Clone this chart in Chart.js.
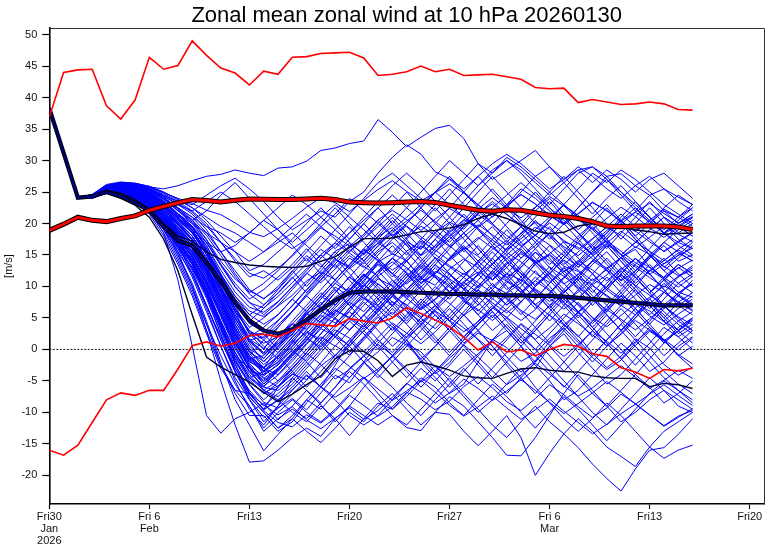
<!DOCTYPE html>
<html><head><meta charset="utf-8">
<script src="https://cdn.jsdelivr.net/npm/chart.js@4.4.1/dist/chart.umd.min.js"></script>
<style>html,body{margin:0;padding:0;background:#fff}canvas{display:block}</style>
</head><body>
<canvas id="c" width="770" height="548"></canvas>
<script>
const titleText = 'Zonal mean zonal wind at 10 hPa 20260130';
const yAxisTitle = '[m/s]';
const days = [0,1,2,3,4,5,6,7,8,9,10,11,12,13,14,15,16,17,18,19,20,21,22,23,24,25,26,27,28,29,30,31,32,33,34,35,36,37,38,39,40,41,42,43,44,45];
const tickDays = [0,7,14,21,28,35,42,49];
const tickLabels = [['Fri30','Jan','2026'],['Fri 6','Feb'],'Fri13','Fri20','Fri27',['Fri 6','Mar'],'Fri13','Fri20'];
const yTicks = [-20,-15,-10,-5,0,5,10,15,20,25,30,35,40,45,50];
const zeroX = [0,50];
const zeroY = [0,0];

const climMax = [36.9,44.0,44.4,44.5,38.7,36.6,39.6,46.4,44.5,45.1,49.0,46.7,44.7,43.9,42.0,44.2,43.7,46.4,46.5,47.0,47.1,47.2,46.3,43.5,43.7,44.1,45.0,44.1,44.5,43.5,43.6,43.7,43.3,42.9,41.6,41.4,41.5,39.2,39.7,39.3,38.9,39.0,39.3,39.0,38.1,38.0];
const climMin = [-16.0,-16.8,-15.2,-11.6,-8.0,-6.9,-7.3,-6.5,-6.5,-3.1,0.6,1.2,0.5,1.0,2.2,2.4,2.0,3.0,4.1,3.9,3.7,4.9,4.5,4.2,5.0,6.6,5.7,4.65,3.6,1.9,-0.1,1.2,-0.4,-0.1,-1.0,0.0,0.8,0.5,-0.7,-1.1,-2.9,-3.6,-4.6,-3.2,-3.4,-3.0];
const climMean = [18.9,19.9,21.0,20.5,20.3,20.8,21.2,22.1,22.7,23.3,23.8,23.65,23.4,23.7,23.9,23.85,23.8,23.8,23.9,24.0,23.8,23.4,23.3,23.25,23.3,23.4,23.5,23.35,22.9,22.5,22.1,21.95,22.2,22.1,21.7,21.3,21.1,20.8,20.3,19.6,19.5,19.6,19.6,19.6,19.45,19.05];
const ensMean = [38.3,31.2,24.1,24.3,25.0,24.3,23.3,22.0,19.5,17.3,16.5,13.8,10.8,7.5,4.6,3.0,2.5,3.2,4.7,6.3,7.8,9.0,9.2,9.2,9.2,9.1,9.0,8.9,8.8,8.8,8.7,8.7,8.6,8.6,8.5,8.5,8.4,8.2,8.0,7.8,7.6,7.4,7.2,7.0,7.0,7.0];
const ensUpper = [38.3,31.2,24.1,24.4,25.3,24.8,23.8,22.3,20.0,18.0,17.2,15.5,14.3,13.8,13.4,13.2,13.1,13.0,13.2,14.0,14.7,16.2,17.6,17.6,17.7,18.2,18.7,18.9,19.3,19.8,20.8,21.5,20.8,19.8,18.8,18.4,18.6,19.6,20.0,19.6,19.3,19.0,18.7,18.3,18.4,18.5];
const ensLower = [38.3,31.2,24.1,24.2,24.8,24.0,22.9,21.0,17.5,12.5,5.5,-1.2,-2.8,-4.0,-5.2,-6.8,-8.3,-7.1,-5.6,-4.2,-1.5,-0.2,-0.3,-1.8,-4.3,-2.5,-2.0,-2.6,-3.3,-4.2,-4.5,-4.6,-3.8,-3.1,-2.9,-3.3,-3.5,-3.6,-4.2,-4.5,-4.6,-4.6,-5.9,-5.4,-5.6,-6.2];

// ensemble members: common first three days, then days 3..45
const ensStart = [38.3,31.2,24.1];
const a01 = [24.2,25.4,25.0,24.0,22.0,18.5,11.0, 0.5,-10.5,-13.3,-11.0,-10.0,-8.5,-11.2, -9.0,-6.5,-8.8,-11.5,-9.0,-6.0,-3.5, -1.0,1.5,-2.0,-4.5,-7.0,-5.5,-2.0, 1.5,3.0,0.5,-2.5,-5.0,-8.0,-6.5, -4.0,-1.5,1.0,-1.0,-3.5,-2.0,0.5,2.0];
const a02 = [24.3,25.6,25.5,24.6,22.8,20.0,15.5, 10.0,3.0,-5.0,-12.0,-17.9,-17.7,-16.0, -14.0,-12.5,-13.8,-11.0,-9.0,-10.5,-12.0, -10.5,-12.4,-12.9,-10.0,-7.5,-9.0,-11.5, -14.0,-16.8,-16.9,-14.0,-10.5,-7.0,-4.0, -6.5,-9.0,-11.5,-10.0,-8.0,-6.5,-8.0,-9.5];
const a03 = [24.1,25.2,25.2,24.3,22.5,19.5,15.0, 10.5,4.5,-2.0,-8.0,-12.0,-16.1,-13.5, -11.0,-8.0,-5.5,-3.0,-4.5,-2.0,1.0, 3.5,1.0,-1.5,0.5,3.0,5.5,3.0, 0.5,-2.5,-5.0,-3.0,0.5,2.5,-0.5, -3.0,-5.5,-4.0,-1.5,1.0,3.5,2.0,0.0];
const a04 = [24.4,25.8,25.7,25.0,23.5,21.0,17.5, 13.5,8.5,2.5,-3.5,-7.5,-10.0,-12.5, -11.0,-13.0,-14.8,-12.5,-10.0,-11.5,-9.0, -7.0,-9.5,-12.0,-10.0,-10.3,-13.0,-15.3, -13.0,-10.5,-14.0,-20.0,-16.5,-13.4,-11.0, -13.0,-15.5,-17.0,-18.6,-15.5,-13.0,-11.5,-10.0];
const a05 = [24.0,25.0,24.8,23.5,21.5,18.0,13.5, 8.5,2.5,-3.0,-6.5,-7.0,-9.5,-8.0, -10.0,-11.5,-9.0,-11.0,-13.7,-11.0,-8.5, -9.5,-7.0,-4.5,-6.0,-8.5,-10.5,-8.0, -5.5,-7.5,-10.0,-12.5,-10.0,-7.5,-9.5, -12.0,-14.5,-12.0,-9.5,-7.0,-5.0,-6.5,-8.5];
const a06 = [24.2,25.3,25.3,24.3,22.5,19.5,15.0, 10.0,4.0,-2.5,-7.0,-10.5,-10.5,-13.0, -11.5,-8.5,-6.0,-2.5,1.0,4.0,6.5, 9.0,11.5,13.5,12.0,14.5,16.5,14.0, 12.0,9.5,11.0,13.5,15.0,12.5,10.0, 8.0,10.5,13.0,11.5,9.0,11.0,13.5,12.0];
const a07 = [24.3,25.5,25.5,24.8,23.2,20.5,16.5, 12.0,6.5,0.5,-5.0,-9.5,-12.0,-9.0, -4.5,-6.5,-8.5,-6.0,-3.5,-5.5,-8.0, -10.5,-12.0,-9.5,-7.0,-4.5,-7.0,-9.5, -12.0,-14.0,-11.5,-9.0,-11.5,-13.4,-15.6, -18.2,-20.5,-22.5,-19.0,-16.0,-15.6,-13.5,-11.0];
const a08 = [24.1,25.1,24.9,23.9,21.8,18.5,14.0, 9.0,3.0,-2.5,-6.5,-9.0,-12.5,-10.0, -8.0,-10.0,-11.5,-9.5,-7.0,-4.5,-7.0, -9.5,-7.5,-5.0,-2.5,-5.0,-7.5,-10.0, -8.0,-5.5,-3.0,-6.0,-8.5,-11.0,-13.0, -11.0,-8.5,-10.5,-13.0,-15.5,-17.3,-16.0,-15.2];
const a09 = [24.4,25.7,25.6,25.0,23.4,20.8,17.0, 12.5,7.0,1.5,-3.5,-7.0,-9.5,-6.0, -3.0,-0.5,2.0,0.5,3.0,5.5,3.0, 0.5,2.5,5.0,7.0,4.5,2.0,4.0, 6.5,8.5,6.0,3.5,1.0,3.5,6.0, 8.0,5.5,3.0,5.0,7.5,5.0,2.5,4.0];
const a10 = [24.2,25.4,25.3,24.5,22.8,20.0,16.0, 11.5,6.0,0.5,-4.5,-8.0,-11.5,-9.0, -6.5,-4.0,-6.0,-8.0,-10.5,-12.0,-10.5, -8.0,-5.5,-3.0,-5.0,-2.5,0.0,-2.5, -5.0,-7.0,-4.5,-2.0,0.5,-2.0,-4.5, -7.0,-9.0,-6.5,-4.0,-6.0,-8.5,-7.0,-5.0];
const a11 = [24.3,25.6,25.4,24.4,22.4,19.0,14.5, 9.5,4.0,-1.0,-5.5,-9.0,-13.0,-11.0, -9.5,-11.0,-8.5,-6.0,-3.0,-1.0,1.5, -1.0,-3.5,-6.0,-3.5,-1.0,1.5,4.0, 6.0,3.5,1.0,3.0,5.5,8.0,6.0, 3.5,1.0,-1.5,1.0,3.5,1.5,-1.0,0.5];
const a12 = [24.1,25.2,25.1,24.3,22.6,20.0,16.5, 12.0,7.0,1.5,-3.5,-7.5,-10.0,-12.5, -10.5,-8.0,-9.5,-7.0,-4.5,-2.0,-4.0, -6.0,-8.5,-10.5,-8.0,-5.5,-3.0,-5.5, -3.0,-0.5,2.0,0.0,-2.5,-5.0,-7.5, -10.0,-12.0,-9.5,-7.0,-4.5,-6.5,-9.0,-10.0];
const b01 = [24.3,25.4,25.7,25.2,24.0,22.0,19.5, 17.0,13.0,8.5,3.5,-0.5,-3.5,-2.0, 1.0,4.0,6.5,9.0,11.5,10.0,12.5, 14.5,13.0,10.5,12.0,14.5,16.0,13.5, 11.0,13.0,15.5,14.0,11.5,9.0,11.0, 13.5,15.5,13.0,10.5,12.5,14.5,12.0,10.0];
const b02 = [24.5,25.9,26.1,25.6,24.4,22.3,19.8, 17.5,13.5,8.0,3.0,-1.0,-3.0,-5.0, -3.0,-0.5,2.5,5.0,7.5,6.0,8.5, 11.0,9.0,6.5,8.0,10.5,8.0,5.5, 3.0,5.0,7.5,10.0,12.0,9.5,7.0, 4.5,6.5,9.0,11.5,9.0,6.5,8.5,11.0];
const b03 = [24.2,25.3,25.4,24.7,23.3,21.0,18.0, 15.0,10.5,5.5,0.5,-3.5,-6.0,-3.0, -0.5,2.0,0.0,2.5,5.0,7.5,5.5, 3.0,5.5,8.0,6.0,3.5,1.0,3.0, 5.5,3.0,0.5,-2.0,0.5,3.0,5.5, 3.0,0.5,2.5,5.0,7.5,5.5,3.0,1.0];
const b04 = [24.4,25.7,25.9,25.5,24.6,23.0,21.0, 19.0,15.5,11.0,6.0,1.5,-0.5,2.0, 4.5,7.0,9.5,12.0,14.5,13.0,15.5, 17.0,15.0,17.5,20.0,18.0,15.5,17.5, 19.5,17.0,14.5,16.5,18.5,16.0,13.5, 15.5,17.5,15.0,12.5,14.5,16.5,14.0,15.0];
const b05 = [24.1,25.0,25.0,24.2,22.6,20.0,16.5, 13.5,9.0,3.5,-1.5,-5.5,-8.0,-6.0, -4.0,-1.5,1.0,3.5,6.0,4.0,1.5, -0.5,2.0,4.5,2.0,-0.5,2.0,4.5, 7.0,5.0,2.5,0.0,2.5,5.0,7.5, 5.0,2.5,0.0,-2.5,0.0,2.5,4.5,6.0];
const b06 = [24.3,25.5,25.8,25.3,24.2,22.5,20.0, 17.5,14.0,9.5,4.5,0.5,-1.5,1.5, 3.0,5.5,8.0,10.5,9.0,11.5,14.0, 12.0,9.5,11.5,14.0,16.5,14.5,12.0, 9.5,7.0,9.0,11.5,9.5,7.0,4.5, 2.0,4.5,7.0,9.5,7.0,4.5,2.0,3.5];
const b07 = [24.2,25.2,25.2,24.6,23.2,21.0,18.2, 15.5,11.5,6.5,1.5,-3.0,-6.5,-5.0, -2.5,0.0,2.5,5.0,3.0,5.5,8.0, 10.5,13.0,11.0,13.5,11.0,8.5,11.0, 13.5,16.0,18.5,16.0,13.5,15.5,18.0, 20.0,17.5,15.0,17.0,19.0,21.0,19.5,18.0];
const b08 = [24.4,25.8,26.1,25.7,24.8,23.3,21.2, 19.5,16.0,11.5,6.5,2.5,1.0,2.0, 4.0,6.5,9.0,7.0,9.5,12.0,10.0, 7.5,5.0,7.5,10.0,8.0,10.5,13.0, 15.5,13.0,10.5,8.0,10.5,13.0,11.0, 8.5,6.0,8.5,11.0,13.5,11.0,8.5,7.0];
const b09 = [24.0,24.9,24.8,23.9,22.2,19.5,16.0, 13.0,8.5,3.5,-1.0,-4.5,-6.0,-6.5, -4.5,-2.0,-4.5,-2.0,0.5,3.0,0.5, -2.0,-4.5,-2.0,0.5,3.0,5.5,3.0, 0.5,-2.0,-4.5,-7.0,-4.5,-2.0,0.5, 3.0,5.5,3.0,0.5,-2.0,-4.5,-6.5,-8.0];
const b10 = [24.3,25.6,25.7,25.1,23.8,21.8,19.0, 16.5,12.5,7.5,2.5,-1.5,-3.0,0.5, 3.0,6.0,8.5,11.0,13.5,16.0,14.0, 11.5,14.0,16.5,19.0,17.0,19.5,22.0, 20.0,17.5,19.5,22.0,24.0,21.5,19.0, 21.0,23.0,20.5,18.0,20.0,22.0,20.0,21.5];
const b11 = [24.2,25.3,25.5,24.9,23.5,21.2,18.5, 15.5,11.0,6.0,1.0,-3.0,-5.5,-3.5, -1.0,1.5,4.0,2.0,4.5,7.0,9.5, 7.0,4.5,7.0,9.5,12.0,10.0,7.5, 5.0,7.5,10.0,12.5,10.0,7.5,5.0, 7.5,10.0,12.5,10.0,7.5,5.0,7.5,9.0];
const b12 = [24.5,26.0,26.3,25.9,25.0,23.5,21.5, 19.5,16.5,12.0,7.0,2.5,0.0,3.5, 6.0,8.5,6.5,9.0,11.5,9.5,7.0, 9.5,12.0,10.0,7.5,5.0,7.5,10.0, 12.5,15.0,12.5,10.0,12.0,14.5,17.0, 15.0,12.5,10.0,12.5,15.0,17.0,15.5,14.0];
const b13 = [24.1,25.1,25.1,24.4,22.8,20.3,17.0, 14.0,9.5,4.5,-0.5,-4.5,-6.5,-7.5, -5.5,-3.0,-0.5,2.0,4.5,2.5,0.0, 2.5,5.0,7.5,5.5,3.0,5.5,8.0, 10.5,8.0,5.5,8.0,10.5,13.0,10.5, 8.0,5.5,3.0,5.5,8.0,10.5,8.5,7.0];
const b14 = [24.3,25.5,25.7,25.2,24.0,22.0,19.3, 17.0,13.0,8.0,3.0,-1.0,-4.0,-2.5, 0.0,2.5,5.0,7.5,10.0,12.5,15.0, 17.5,20.0,22.5,25.0,27.5,25.0,22.5, 20.0,22.5,25.0,27.5,29.0,26.5,24.0, 21.5,24.0,26.0,23.5,21.0,18.5,20.5,22.5];
const b15 = [24.2,25.4,25.5,24.8,23.3,21.0,18.0, 15.0,10.5,5.5,0.5,-3.5,-4.0,-1.0, 1.5,-1.0,1.5,4.0,6.5,9.0,11.5, 9.0,6.5,4.0,6.5,9.0,11.5,14.0, 16.5,14.0,11.5,9.0,6.5,9.0,11.5, 14.0,16.5,14.0,11.5,9.0,11.0,13.0,11.5];
const b16 = [24.4,25.7,26.0,25.6,24.6,23.0,20.8, 18.5,15.0,10.5,6.0,3.0,0.5,-1.5, 0.5,3.0,1.0,-1.5,1.0,3.5,6.0, 8.5,6.0,3.5,1.0,3.5,6.0,8.5, 6.0,3.5,1.0,3.5,6.0,8.5,6.0, 3.5,1.0,-1.5,-4.0,-1.5,1.0,3.5,5.0];
const b17 = [24.0,24.8,24.6,23.6,21.8,19.0,15.5, 12.0,7.0,2.0,-3.0,-6.5,-9.0,-7.0, -5.0,-2.5,0.0,2.5,0.5,-2.0,-4.5, -2.0,0.5,3.0,5.5,3.0,0.5,-2.0, -4.5,-2.0,0.5,3.0,5.5,3.0,0.5, -2.0,0.5,3.0,5.5,8.0,6.0,4.0,2.5];
const b18 = [24.3,25.5,25.6,25.0,23.6,21.4,18.7, 16.0,12.0,7.0,2.0,-2.0,-3.0,-4.0, -1.5,1.0,3.5,6.0,8.5,11.0,13.5, 11.0,8.5,11.0,13.5,16.0,18.5,16.0, 13.5,11.0,13.5,16.0,18.5,21.0,18.5, 16.0,13.5,11.0,13.5,16.0,18.5,17.0,16.0];
const b19 = [24.2,25.2,25.3,24.7,23.3,21.0,18.0, 15.5,12.0,7.5,3.0,-1.0,1.5,-0.5, 2.0,4.5,7.0,9.5,7.0,4.5,7.0, 9.5,12.0,9.5,7.0,4.5,7.0,9.5, 7.0,4.5,2.0,4.5,7.0,9.5,12.0, 9.5,7.0,4.5,2.0,4.5,7.0,5.0,3.0];
const b20 = [24.4,25.8,26.0,25.6,24.5,22.7,20.2, 18.0,14.0,9.0,4.0,0.0,-3.0,-1.0, 1.5,4.0,6.5,9.0,11.5,14.0,16.5, 19.0,16.5,14.0,16.5,19.0,21.5,19.0, 16.5,14.0,11.5,14.0,16.5,14.0,11.5, 9.0,11.5,9.0,6.5,4.0,6.5,9.0,10.5];
const b21 = [24.1,25.0,24.9,24.0,22.4,19.8,16.5, 13.5,9.0,4.0,-1.0,-3.0,-4.5,-6.0, -3.5,-1.0,1.5,-1.0,1.5,4.0,6.5, 4.0,1.5,4.0,1.5,-1.0,1.5,4.0, 6.5,9.0,11.5,9.0,6.5,4.0,1.5, -1.0,1.5,4.0,6.5,4.0,1.5,-1.0,-3.0];
const b22 = [24.3,25.6,25.8,25.4,24.3,22.6,20.3, 18.0,14.5,10.0,5.5,1.5,2.0,4.5, 7.0,9.5,12.0,14.5,12.0,9.5,12.0, 14.5,17.0,14.5,12.0,14.5,17.0,19.5, 22.0,19.5,17.0,14.5,12.0,14.5,17.0, 19.5,17.0,14.5,12.0,14.5,17.0,19.0,20.5];
const b23 = [24.2,25.3,25.2,24.4,22.8,20.2,17.0, 14.0,9.5,4.5,-0.5,-4.0,-6.5,-8.0, -6.0,-3.5,-6.0,-3.5,-1.0,1.5,4.0, 6.5,4.0,1.5,4.0,6.5,4.0,1.5, -1.0,1.5,4.0,1.5,-1.0,-3.5,-1.0, 1.5,4.0,6.5,4.0,1.5,-1.0,1.0,3.0];
const b24 = [24.4,25.7,25.9,25.4,24.3,22.5,20.0, 18.0,14.5,10.0,5.0,1.0,-2.0,0.5, 3.0,5.5,8.0,10.5,13.0,15.5,18.0, 20.5,18.0,20.5,23.0,25.5,23.0,20.5, 18.0,15.5,18.0,20.5,18.0,15.5,13.0, 15.5,18.0,20.5,18.0,15.5,13.0,15.0,17.0];
const b25 = [24.1,25.1,25.0,24.2,22.6,20.0,16.8, 14.0,9.5,4.5,-0.5,-4.5,-3.5,-1.0, -3.5,-6.0,-3.5,-1.0,1.5,-1.0,-3.5, -1.0,1.5,-1.0,-3.5,-6.0,-3.5,-1.0, 1.5,4.0,1.5,-1.0,-3.5,-6.0,-3.5, -1.0,1.5,4.0,1.5,-1.0,-3.5,-5.5,-7.0];
const b26 = [24.3,25.4,25.6,25.0,23.8,21.7,19.0, 16.5,12.5,7.5,2.5,-1.5,-1.0,1.5, 4.0,2.0,4.5,7.0,9.5,12.0,9.5, 7.0,9.5,12.0,14.5,12.0,9.5,7.0, 9.5,12.0,14.5,17.0,19.5,17.0,14.5, 12.0,9.5,12.0,14.5,12.0,9.5,7.0,8.5];
const b27 = [24.2,25.2,25.3,24.7,23.3,21.1,18.3, 15.5,11.5,6.5,1.5,-2.5,-5.5,-3.0, -0.5,2.0,4.5,2.0,-0.5,2.0,4.5, 7.0,9.5,7.0,4.5,7.0,9.5,12.0, 14.5,12.0,9.5,7.0,4.5,7.0,9.5, 12.0,14.5,12.0,9.5,7.0,4.5,6.5,8.0];
const b28 = [24.4,25.9,26.2,25.8,24.9,23.4,21.3, 19.5,16.0,11.5,6.5,2.5,2.5,0.0, 2.5,5.0,7.5,5.0,7.5,10.0,12.5, 10.0,12.5,15.0,17.5,15.0,12.5,10.0, 12.5,10.0,7.5,10.0,12.5,15.0,17.5, 20.0,22.5,20.0,17.5,15.0,12.5,10.5,9.0];
const c01 = [24.5,25.9,26.3,26.0,25.3,24.0,22.3, 20.5,17.5,13.5,10.0,7.5,5.5,7.5, 10.0,12.5,15.0,13.0,15.5,18.0,20.5, 18.0,15.5,13.0,15.5,18.0,20.5,23.0, 25.5,23.0,20.5,18.0,20.5,23.0,21.0, 18.5,16.0,18.5,21.0,23.5,21.0,18.5,20.0];
const c02 = [24.4,25.8,26.2,25.8,25.0,23.5,21.5, 19.0,15.5,11.0,7.0,4.5,6.5,9.0, 11.5,9.0,11.5,14.0,16.5,14.0,11.5, 9.0,11.5,14.0,11.5,9.0,11.5,14.0, 16.5,19.0,16.5,14.0,11.5,9.0,11.5, 14.0,16.5,14.0,11.5,9.0,11.5,13.5,12.0];
const c03 = [24.5,26.0,26.4,26.1,25.5,24.4,23.0, 21.5,19.0,15.5,12.0,9.0,10.5,12.5, 15.0,17.5,20.0,22.5,20.0,17.5,20.0, 22.5,25.0,22.5,20.0,22.5,25.0,27.5, 25.0,22.5,20.0,22.5,25.0,27.5,25.0, 22.5,20.0,17.5,20.0,22.5,20.0,17.5,16.0];
const c04 = [24.3,25.6,26.0,25.6,24.7,23.0,20.8, 18.5,15.0,10.5,6.5,3.5,5.0,7.0, 9.5,12.0,14.5,17.0,19.5,17.0,14.5, 12.0,14.5,17.0,14.5,12.0,9.5,12.0, 14.5,17.0,19.5,17.0,14.5,12.0,9.5, 7.0,9.5,12.0,14.5,12.0,9.5,7.0,5.5];
const c05 = [24.6,26.1,26.5,26.3,25.8,24.8,23.5, 22.0,20.0,17.0,14.0,11.5,12.5,11.0, 13.0,15.5,18.0,16.0,18.5,21.0,23.5, 26.0,28.0,26.0,23.5,21.0,23.5,26.0, 28.5,30.0,28.0,25.5,23.0,25.5,28.0, 29.0,27.0,24.5,22.0,24.5,22.0,21.0,22.5];
const c06 = [24.4,25.7,26.1,25.7,24.8,23.2,21.0, 19.0,15.5,11.5,8.0,5.5,4.0,5.5, 8.0,6.0,8.5,11.0,9.0,11.5,14.0, 16.5,14.0,11.5,9.0,11.5,14.0,16.5, 14.0,11.5,9.0,6.5,9.0,11.5,14.0, 16.5,14.0,11.5,9.0,6.5,9.0,11.5,13.0];
const c07 = [24.5,25.9,26.3,25.9,25.1,23.8,22.0, 20.0,17.0,13.5,10.5,8.0,9.5,11.5, 13.5,16.0,13.5,11.0,13.5,16.0,18.5, 21.0,18.5,16.0,18.5,21.0,18.5,16.0, 13.5,16.0,18.5,21.0,23.5,21.0,18.5, 16.0,18.5,21.0,23.5,21.0,18.5,20.0,21.5];
const c08 = [24.3,25.5,25.9,25.4,24.4,22.6,20.3, 18.0,14.5,10.0,6.0,3.0,1.5,3.5, 6.0,8.5,11.0,13.5,11.0,8.5,6.0, 8.5,11.0,13.5,16.0,18.5,16.0,13.5, 11.0,13.5,16.0,13.5,11.0,8.5,6.0, 3.5,6.0,8.5,6.0,3.5,1.0,3.0,5.0];
const c09 = [24.6,26.2,26.6,26.4,25.9,25.0,23.8, 22.5,20.5,18.0,15.5,12.5,13.5,15.5, 17.5,20.0,22.5,20.0,17.5,20.0,22.5, 20.0,17.5,15.0,17.5,20.0,22.5,25.0, 27.5,25.0,22.5,20.0,17.5,20.0,22.5, 25.0,27.5,25.0,22.5,20.0,22.5,24.5,23.0];
const c10 = [24.4,25.6,25.9,25.5,24.5,22.8,20.5, 18.5,15.5,12.0,8.5,5.5,7.0,9.5, 12.0,14.5,12.0,9.5,7.0,9.5,12.0, 14.5,12.0,9.5,7.0,4.5,7.0,9.5, 12.0,14.5,12.0,9.5,7.0,4.5,2.0, 4.5,7.0,9.5,12.0,9.5,7.0,4.5,3.0];
const c11 = [24.5,26.0,26.4,26.1,25.4,24.2,22.5, 21.0,18.5,15.5,12.5,9.5,8.0,10.0, 12.5,10.0,12.5,15.0,17.5,20.0,17.5, 15.0,17.5,20.0,22.5,20.0,17.5,15.0, 17.5,20.0,22.5,25.0,22.5,20.0,17.5, 15.0,17.5,20.0,17.5,15.0,12.5,14.5,16.5];
const c12 = [24.3,25.4,25.7,25.2,24.1,22.2,19.8, 17.5,14.0,9.5,5.5,2.0,3.5,5.5, 8.0,10.5,13.0,15.5,13.0,10.5,8.0, 5.5,8.0,10.5,13.0,10.5,8.0,5.5, 8.0,10.5,13.0,15.5,13.0,10.5,8.0, 10.5,13.0,10.5,8.0,5.5,8.0,10.5,12.0];
const d01 = [24.6,26.0,26.5,26.3,25.8,25.5,26.0, 26.8,27.5,27.8,28.5,28.0,27.6,28.8, 29.0,29.9,31.6,32.0,32.7,33.1,36.5, 34.5,32.2,33.7,35.1,35.6,33.5,29.5, 27.0,28.5,30.0,31.6,29.0,27.0,28.5, 29.0,27.5,27.9,26.0,24.5,25.5,24.2,23.0];
const d02 = [24.5,25.9,26.4,26.2,25.5,24.5,23.5, 23.0,24.5,26.0,27.2,25.5,23.5,21.0, 19.0,20.5,22.0,21.0,23.5,25.0,28.0, 30.5,32.5,31.0,28.2,27.1,25.5,27.5, 29.5,31.0,29.5,27.5,25.5,27.0,29.0, 27.5,25.5,24.0,26.0,27.5,25.5,23.5,22.0];
const d03 = [24.4,25.7,26.2,26.0,25.2,24.0,22.5, 21.0,19.5,18.5,17.0,18.5,20.5,22.5, 24.5,23.0,21.0,19.0,21.5,24.0,26.5, 28.0,26.0,24.0,22.0,24.5,27.0,29.5, 28.0,30.5,29.0,27.0,25.0,23.0,25.5, 28.0,26.5,28.5,27.0,25.0,23.0,21.5,20.0];
const d04 = [24.5,25.8,26.3,26.1,25.4,24.3,23.0, 22.0,23.5,25.0,23.5,21.5,19.5,17.5, 16.0,17.5,19.5,21.5,24.0,22.0,20.0, 18.0,20.0,22.5,25.0,27.0,25.0,23.0, 21.0,23.0,25.5,24.0,22.0,20.0,22.5, 25.0,27.0,25.0,23.0,21.0,19.0,21.0,23.0];
const d05 = [24.6,26.0,26.5,26.4,25.9,25.0,23.8, 22.5,21.0,19.5,18.5,17.0,15.5,17.0, 18.5,16.5,14.5,16.5,18.5,20.5,22.5, 24.5,22.5,20.5,18.5,16.5,18.5,20.5, 22.5,24.5,26.5,24.5,22.5,20.5,18.5, 16.5,18.5,20.5,22.5,20.5,18.5,16.5,15.0];
const d06 = [24.4,25.6,26.0,25.6,24.6,23.0,21.0, 19.0,17.0,15.5,16.5,18.5,20.5,19.0, 17.0,19.0,21.0,23.0,21.0,19.0,17.0, 19.0,21.0,23.0,25.0,23.0,21.0,19.0, 17.0,15.0,17.0,19.0,21.0,23.0,21.0, 19.0,17.0,15.0,17.0,19.0,21.0,19.5,18.0];
const d07 = [24.5,25.9,26.4,26.1,25.3,24.0,22.0, 20.5,22.0,24.5,26.5,24.0,21.5,19.0, 16.5,14.0,16.5,19.0,17.0,15.0,17.5, 20.0,22.5,25.0,27.5,30.0,28.0,26.0, 28.0,30.0,28.5,26.5,24.5,26.5,28.5, 26.5,28.5,27.0,25.0,27.0,28.0,26.0,24.0];
const d08 = [24.5,25.8,26.2,25.8,24.8,23.2,21.5, 20.0,18.5,17.0,15.5,14.0,15.5,17.5, 19.5,21.5,19.5,17.5,15.5,17.5,19.5, 21.5,19.5,17.5,15.5,17.5,19.5,21.5, 23.5,21.5,19.5,17.5,15.5,13.5,15.5, 17.5,19.5,21.5,19.5,17.5,15.5,17.0,18.5];
const e01 = [24.3,25.5,25.6,25.1,23.9,21.9,19.2, 16.8,13.2,9.1,4.4,1.2,-0.8,0.9, 2.3,5.8,7.1,9.9,8.4,10.7,13.9, 15.2,14.1,11.3,10.2,12.8,14.4,13.0, 10.1,8.9,10.6,13.7,15.1,13.2,12.4, 10.3,11.8,14.6,15.9,13.1,11.4,12.9,14.2];
const e02 = [24.2,25.3,25.2,24.4,22.9,20.4,17.3, 14.1,9.8,4.2,-1.9,-5.6,-8.4,-9.3, -7.8,-9.6,-6.9,-4.1,-5.3,-2.2,-0.4, 1.9,0.7,-1.6,-3.9,-2.1,0.8,2.6, 1.4,-1.2,-3.6,-1.8,1.3,3.9,2.2, -0.6,-2.9,-1.1,1.7,0.2,-2.4,-4.1,-2.8];
const e03 = [24.5,25.9,26.3,26.0,25.2,23.9,22.1, 20.2,17.4,14.0,11.2,9.3,8.1,9.6, 12.4,14.9,13.1,15.6,16.8,15.2,17.9, 19.4,17.1,15.9,18.6,20.2,19.1,21.7, 23.1,21.4,19.8,18.1,20.6,22.9,21.3, 19.2,17.6,19.9,21.8,20.3,18.4,19.6,21.1];
const e04 = [24.2,25.2,25.3,24.6,23.1,20.7,17.6, 14.9,10.6,5.8,0.9,-2.8,-4.9,-3.1, -0.7,1.4,4.6,6.2,5.1,7.9,10.4, 8.7,6.9,9.3,11.8,10.2,7.6,6.1, 8.4,10.9,9.6,7.1,8.8,11.3,13.6, 12.1,9.4,7.8,9.9,12.6,11.2,9.1,8.3];
const e05 = [24.1,25.0,24.9,24.0,22.3,19.6,16.2, 13.1,8.6,3.3,-1.8,-5.1,-6.9,-5.8, -3.9,-4.8,-2.6,-0.9,-2.7,-4.6,-3.1, -1.2,0.9,-0.4,-2.8,-4.3,-2.6,-0.7, 1.6,0.3,-1.9,-0.6,1.8,3.4,1.1, -1.3,-3.2,-1.7,0.6,2.9,1.3,-0.8,-2.3];
const e06 = [24.5,25.9,26.4,26.2,25.7,24.9,24.0, 23.2,22.1,21.4,20.1,18.6,17.9,19.2, 20.8,22.6,24.1,23.3,21.9,23.7,25.4, 26.8,25.1,23.6,24.9,26.3,24.8,22.9, 21.4,22.8,24.6,23.1,21.2,19.8,21.5, 23.3,22.1,20.4,21.8,23.2,21.6,20.1,21.0];
const e07 = [24.3,25.6,25.8,25.3,24.1,22.2,19.7, 17.3,13.7,9.4,4.9,1.6,0.2,2.3, 4.1,3.2,5.6,8.3,9.7,8.1,6.4, 8.9,10.6,12.9,11.4,9.2,10.8,12.3, 11.1,13.6,15.2,13.9,12.1,10.4,11.9, 14.1,12.6,10.9,12.4,14.8,13.2,11.7,12.6];
const e08 = [24.3,25.5,25.5,24.8,23.3,20.9,17.9, 14.6,10.1,4.3,-2.2,-6.8,-9.7,-11.6, -12.3,-10.4,-11.7,-9.8,-7.3,-8.9,-10.6, -9.1,-6.8,-7.9,-9.6,-8.2,-5.9,-4.3, -6.1,-8.3,-9.7,-7.8,-5.6,-7.2,-9.1, -10.8,-9.3,-7.1,-8.6,-10.4,-12.1,-10.6,-9.7];
const e09 = [24.4,25.7,26.0,25.6,24.7,23.0,20.9, 18.7,15.6,11.8,8.4,6.1,5.2,6.9, 8.6,10.9,12.3,11.1,13.4,15.8,14.2, 12.6,14.1,16.4,15.1,13.3,11.9,13.7, 15.9,17.3,15.6,13.8,15.2,17.1,16.2, 14.4,12.9,14.6,16.3,15.1,13.6,14.9,16.1];
const e10 = [24.2,25.3,25.4,24.8,23.4,21.3,18.6, 16.1,12.4,7.6,2.6,-1.3,-2.8,-1.2, 0.9,2.7,1.6,3.9,6.6,8.2,6.9, 5.1,6.8,4.9,3.3,5.6,7.9,9.4, 8.1,6.2,4.6,6.3,8.9,7.4,5.8, 4.1,6.3,8.6,7.2,5.3,3.9,5.6,7.1];
const e11 = [24.4,25.8,26.0,25.6,24.7,23.1,20.9, 18.9,15.8,11.9,7.6,4.1,2.8,4.6, 6.9,9.4,11.8,14.3,13.1,15.2,16.9, 15.4,17.8,19.6,18.1,16.3,17.9,19.8, 18.2,16.6,18.4,20.2,19.1,17.3,15.9, 17.6,19.4,18.1,16.2,17.8,19.6,18.3,17.1];
const e12 = [24.2,25.2,25.3,24.6,23.0,20.5,17.4, 14.7,10.8,5.9,1.1,-2.6,-4.2,-2.3, 0.4,3.1,5.4,4.2,6.1,8.7,11.2, 10.1,8.3,9.9,12.4,11.2,9.6,8.1, 9.9,12.1,11.0,9.3,7.6,9.1,11.4, 10.2,8.4,6.9,8.6,10.3,9.1,7.4,6.3];
const e13 = [24.1,25.1,25.0,24.2,22.5,19.8,16.4, 12.8,8.1,2.4,-3.6,-7.9,-10.8,-9.4, -7.1,-4.9,-2.1,0.6,-0.9,1.8,4.3, 5.9,4.1,6.6,8.9,7.3,5.4,7.1, 9.3,8.1,6.2,4.8,6.9,8.6,7.2, 5.1,3.6,5.4,7.3,6.1,4.4,3.1,4.8];
const e14 = [24.3,25.5,25.7,25.1,23.8,21.6,18.9, 16.4,12.6,8.1,3.4,-0.4,-1.9,0.3, 2.8,4.6,3.4,5.8,8.1,10.3,12.4, 13.9,12.2,10.6,12.1,14.3,16.2,14.8, 12.9,11.4,13.1,15.4,14.1,12.3,13.8, 15.9,17.2,15.6,13.8,12.4,14.1,15.8,14.6];
const e15 = [24.1,25.0,24.9,24.1,22.6,20.1,16.9, 13.7,9.4,4.1,-1.2,-4.8,-7.1,-5.3, -3.1,-0.6,-2.4,-4.7,-3.2,-1.1,0.8, -0.9,-3.1,-5.2,-3.6,-1.4,0.7,-1.2, -3.4,-5.6,-4.1,-2.2,-3.9,-5.8,-7.4, -6.1,-4.3,-2.6,-4.4,-6.2,-4.9,-3.3,-4.6];
const e16 = [24.5,26.0,26.3,26.0,25.3,24.0,22.4, 20.6,18.1,14.9,11.6,8.8,7.1,8.9, 11.3,13.6,15.9,14.4,12.8,14.6,16.9, 18.3,16.7,14.9,16.4,18.7,20.6,19.2, 17.4,15.8,17.6,19.4,18.1,16.3,14.9, 16.8,18.9,20.4,18.8,17.1,15.6,17.2,18.6];
const e17 = [24.2,25.4,25.5,24.9,23.6,21.5,18.7, 16.2,12.3,7.4,2.3,-1.6,-3.4,-1.6, 1.2,3.6,6.1,4.8,3.1,5.4,7.6, 9.8,8.1,6.3,7.9,10.2,12.1,10.6, 8.9,7.1,8.8,10.9,9.3,7.6,9.1, 11.2,9.8,8.1,6.6,8.3,10.1,8.7,7.3];
const e18 = [24.2,25.3,25.2,24.4,22.8,20.2,16.9, 13.6,8.9,3.1,-2.9,-7.1,-9.6,-8.1, -6.4,-4.2,-5.9,-7.6,-6.1,-4.4,-6.3, -8.1,-6.6,-4.9,-6.8,-8.9,-10.6,-9.1, -7.4,-9.3,-11.1,-9.6,-7.9,-9.8,-11.6, -13.4,-11.9,-10.2,-8.7,-10.4,-12.2,-10.8,-9.4];
const e19 = [24.5,26.0,26.4,26.2,25.6,24.6,23.2, 21.8,19.6,17.0,14.4,12.1,11.3,12.9, 14.8,17.1,19.3,18.0,16.4,18.3,20.6, 22.1,20.6,18.9,20.7,22.4,21.0,19.4, 21.1,23.0,24.6,23.1,21.4,19.9,21.6, 23.4,22.0,20.3,18.7,20.5,22.3,21.0,19.6];
const e20 = [24.3,25.6,25.8,25.3,24.2,22.3,19.9, 17.6,14.1,9.7,5.1,1.4,-0.6,1.1, 3.4,6.1,8.4,7.1,9.3,11.8,10.4, 8.6,10.9,13.2,11.6,9.9,8.2,10.1, 12.3,10.8,9.1,10.9,13.1,11.6,9.8, 8.1,9.9,11.8,10.2,8.6,7.1,8.9,10.4];
const e21 = [24.2,25.2,25.3,24.6,23.2,20.9,17.9, 15.3,11.4,6.6,1.6,-2.2,-4.6,-3.0, -0.8,1.7,0.4,2.6,5.1,3.6,6.2, 8.4,7.1,5.2,6.9,9.1,8.0,6.3, 4.6,6.4,8.7,7.2,5.4,3.9,5.8, 7.9,6.3,4.8,3.1,4.9,6.8,5.2,3.9];
const e22 = [24.4,25.7,25.9,25.5,24.5,22.8,20.6, 18.6,15.2,11.0,6.4,2.9,1.8,3.9, 6.1,8.8,11.1,13.6,15.9,14.1,16.4, 18.6,20.4,22.1,20.3,18.6,20.1,22.3, 24.1,22.4,20.9,22.6,24.3,22.8,20.6, 19.1,20.8,22.6,21.1,19.3,17.8,19.4,20.9];
const e23 = [24.1,25.1,25.1,24.4,22.9,20.5,17.2, 14.4,10.3,5.2,0.1,-3.6,-5.8,-4.1, -1.9,0.8,3.3,2.1,0.6,2.9,5.1, 3.6,1.9,3.8,6.1,4.6,2.8,4.4, 6.6,5.1,3.3,1.6,3.4,5.6,4.1, 2.3,0.6,2.4,4.6,3.1,1.4,2.9,4.6];
const e24 = [24.4,25.7,26.1,25.7,24.9,23.4,21.3, 19.3,16.4,12.6,9.1,6.7,5.9,7.6, 9.9,12.1,10.6,12.8,14.9,13.2,11.6, 13.4,15.6,17.2,15.8,14.1,15.9,17.8, 16.1,14.4,16.2,18.1,16.6,14.9,13.1, 14.8,16.7,15.1,13.4,11.9,13.6,15.3,14.1];
const e25 = [24.2,25.3,25.3,24.6,23.0,20.6,17.4, 14.2,9.6,3.7,-2.4,-6.9,-8.8,-10.4, -9.1,-11.2,-12.6,-10.9,-9.3,-11.1,-9.7, -7.6,-5.4,-6.8,-8.5,-6.9,-4.7,-6.2, -8.1,-6.6,-4.8,-6.5,-8.4,-10.2,-8.6, -6.9,-5.1,-6.8,-8.7,-7.1,-5.6,-7.3,-8.9];
const e26 = [24.3,25.4,25.6,25.0,23.7,21.6,18.9, 16.5,12.8,8.2,3.4,-0.3,-2.4,-0.6, 1.9,4.3,6.8,5.4,7.9,10.2,8.7, 6.9,9.1,11.3,13.4,11.9,10.1,11.8, 13.6,15.4,13.9,12.1,10.6,12.4,14.1, 12.6,10.9,12.7,14.4,13.0,11.4,9.9,11.6];
const e27 = [24.2,25.3,25.4,24.8,23.4,21.2,18.4, 15.8,11.9,7.0,2.0,-1.8,-3.6,-2.0, -0.2,-1.9,0.6,3.1,1.8,-0.4,1.9, 4.2,2.6,0.9,2.8,5.1,3.4,1.6, -0.2,1.9,4.1,2.4,0.7,-1.1,0.8, 2.9,1.3,-0.6,1.2,3.1,1.6,-0.1,1.8];
const e28 = [24.4,25.8,26.1,25.8,25.0,23.6,21.6, 19.6,16.9,13.3,9.9,7.4,6.6,8.4, 10.6,12.8,15.1,16.9,15.3,13.6,15.8, 17.9,19.6,17.9,16.2,17.9,19.8,21.4, 19.8,18.1,16.4,18.2,20.1,18.4,16.8, 15.2,16.9,18.8,17.1,15.6,14.1,15.9,17.4];
const e29 = [24.3,25.5,25.7,25.2,23.9,21.9,19.3, 16.9,13.3,8.7,3.9,0.1,-1.4,0.8, 3.2,5.7,4.3,6.6,9.0,11.4,13.6, 12.1,10.4,12.3,14.6,13.1,11.4,9.8, 11.6,13.8,12.1,10.3,12.1,14.2,12.6, 10.9,12.7,14.6,13.1,11.4,9.9,11.6,13.3];
const e30 = [24.2,25.2,25.2,24.5,23.0,20.6,17.5, 14.8,10.9,6.0,1.0,-2.9,-5.1,-3.3, -1.1,1.4,3.9,6.3,4.9,3.2,5.4, 7.6,6.1,4.4,6.2,8.4,10.6,9.1, 7.4,5.8,7.6,9.6,8.1,6.4,8.2, 10.1,8.6,7.0,5.5,7.3,9.1,7.6,6.1];

const members = [a01,a02,a03,a04,a05,a06,a07,a08,a09,a10,a11,a12,
  b01,b02,b03,b04,b05,b06,b07,b08,b09,b10,b11,b12,b13,b14,b15,b16,b17,b18,b19,b20,b21,b22,b23,b24,b25,b26,b27,b28,
  c01,c02,c03,c04,c05,c06,c07,c08,c09,c10,c11,c12,
  d01,d02,d03,d04,d05,d06,d07,d08,
  e01,e02,e03,e04,e05,e06,e07,e08,e09,e10,e11,e12,e13,e14,e15,e16,e17,e18,e19,e20,e21,e22,e23,e24,e25,e26,e27,e28,e29,e30];

function xy(vals){ return vals.map((v,i)=>({x:days[i], y:v})); }
function line(data, color, width, order, extra){
  return Object.assign({data, borderColor:color, borderWidth:width, order, pointRadius:0, tension:0, fill:false}, extra||{});
}

const datasets = [];
members.forEach(m => datasets.push(line(xy(ensStart.concat(m)), '#0000ff', 1, 20)));
datasets.push(line(xy(ensUpper), '#000030', 1.4, 8));
datasets.push(line(xy(ensLower), '#000030', 1.4, 8));
datasets.push(line(xy(ensMean), '#000000', 4.2, 7));
datasets.push(line(xy(ensMean), '#00008b', 2, 6));
datasets.push(line(zeroX.map((x,i)=>({x, y:zeroY[i]})), '#000000', 0.9, 5, {borderDash:[2,1.5]}));
datasets.push(line(xy(climMean), '#000000', 5, 4));
datasets.push(line(xy(climMean), '#ff0000', 3, 3));
datasets.push(line(xy(climMax), '#ff0000', 1.6, 2));
datasets.push(line(xy(climMin), '#ff0000', 1.6, 2));

const frameAndTitle = {
  id:'frameAndTitle',
  afterDraw(chart){
    const {ctx, chartArea:a} = chart;
    ctx.save();
    ctx.strokeStyle = '#333';
    ctx.lineWidth = 1;
    ctx.beginPath();
    ctx.moveTo(a.left, a.top+0.5); ctx.lineTo(a.right+0.5, a.top+0.5); ctx.lineTo(a.right+0.5, a.bottom);
    ctx.stroke();
    ctx.fillStyle = '#000';
    ctx.font = '22px "Liberation Sans", Arial, sans-serif';
    ctx.textAlign = 'center';
    ctx.textBaseline = 'alphabetic';
    ctx.fillText(titleText, (a.left + a.right)/2, 22);
    ctx.restore();
  }
};

const tickFont = {family:'"Liberation Sans", Arial, sans-serif', size:11, lineHeight:1.1};

new Chart(document.getElementById('c'), {
  type:'line',
  data:{datasets},
  options:{
    animation:false, responsive:false, devicePixelRatio:1,
    events:[],
    layout:{padding:{top:28, right:6, left:0, bottom:0}},
    plugins:{legend:{display:false}, tooltip:{enabled:false}, title:{display:false}},
    scales:{
      x:{
        type:'linear', min:0, max:50,
        afterBuildTicks: s => { s.ticks = tickDays.map(v => ({value:v})); },
        afterFit: s => { s.height = 44; },
        grid:{drawOnChartArea:false, drawTicks:true, tickLength:5, tickColor:'#000', tickWidth:1.2},
        border:{color:'#000', width:1.6},
        ticks:{autoSkip:false, maxRotation:0, minRotation:0, padding:2, color:'#111', font:tickFont,
          callback:(v, i) => tickLabels[i]}
      },
      y:{
        type:'linear', min:-24.55, max:51.05,
        afterBuildTicks: s => { s.ticks = yTicks.map(v => ({value:v})); },
        afterFit: s => { s.width = 49.3; },
        grid:{drawOnChartArea:false, drawTicks:true, tickLength:7, tickColor:'#000', tickWidth:1.2},
        border:{color:'#000', width:1.6},
        ticks:{padding:5, color:'#111', font:tickFont, callback:v => String(v)},
        title:{display:true, text:yAxisTitle, color:'#111', font:{family:'"Liberation Sans", Arial, sans-serif', size:11}, padding:{top:2, bottom:0}}
      }
    }
  },
  plugins:[frameAndTitle]
});
</script>
</body></html>
